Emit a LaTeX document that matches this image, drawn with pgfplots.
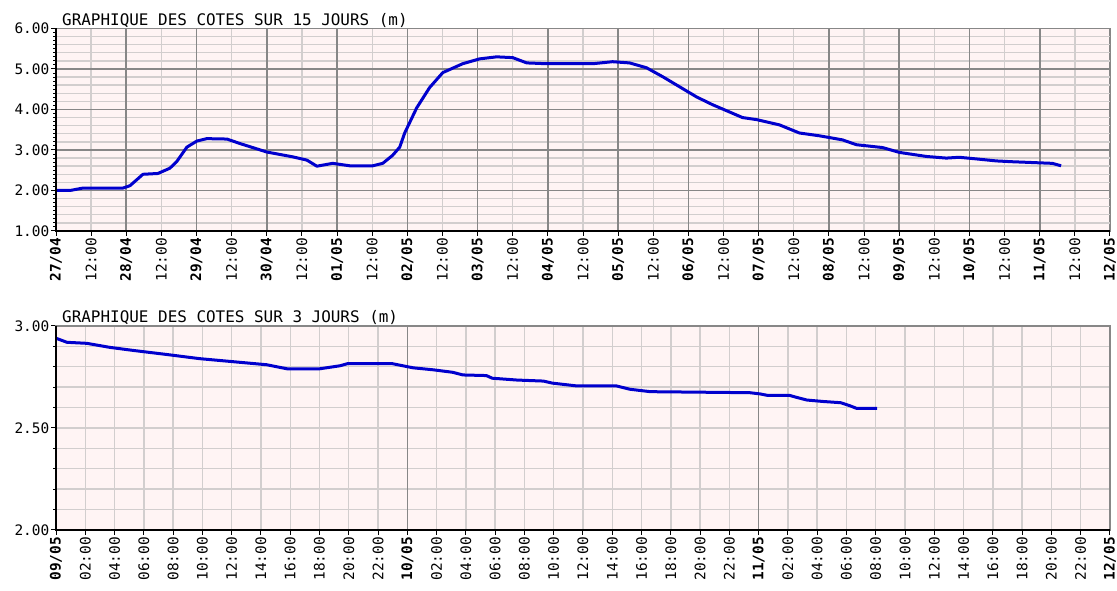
\documentclass[border=0pt]{standalone}
\usepackage{pgfplots}
\pgfplotsset{compat=1.18}
\usepackage{fontspec}
\newfontfamily\chartfont{DejaVu Sans Mono}
\definecolor{bgpink}{RGB}{255,244,244}
\definecolor{gridlight}{RGB}{210,206,206}
\definecolor{griddark}{RGB}{135,135,135}
\definecolor{lineblue}{RGB}{0,0,205}
\tikzset{darkgrid/.style={griddark, line width=1.6bp}}

\pgfplotstableread{
h v
0 2.00
4.8 2.00
9.2 2.06
22.9 2.06
25.3 2.12
29.7 2.40
34.8 2.42
38.9 2.55
41.3 2.72
44.7 3.07
48.1 3.22
51.5 3.28
58.4 3.27
62.8 3.16
72.0 2.95
80.9 2.83
85.7 2.75
89.1 2.60
94.5 2.67
100.3 2.61
108.2 2.61
111.6 2.67
115.0 2.87
117.4 3.07
119.1 3.42
123.2 4.04
127.6 4.54
132.1 4.91
138.9 5.13
144.7 5.25
150.5 5.30
156.0 5.28
160.8 5.15
167.6 5.13
183.3 5.13
190.1 5.18
195.9 5.15
201.7 5.03
207.2 4.81
213.0 4.56
218.8 4.31
224.2 4.12
230.0 3.94
234.5 3.80
239.3 3.75
247.1 3.62
253.9 3.42
260.8 3.35
268.6 3.25
273.4 3.13
282.3 3.06
288.1 2.94
297.3 2.84
304.1 2.80
308.5 2.82
314.3 2.78
321.2 2.73
326.6 2.71
336.9 2.68
340.3 2.67
343.3 2.61
}\quinze

\pgfplotstableread{
h v
0 2.94
0.75 2.92
2.1 2.915
3.7 2.895
5.3 2.88
7.6 2.86
9.8 2.84
12.1 2.825
14.4 2.81
15.8 2.79
18.0 2.79
19.4 2.805
19.9 2.815
23.0 2.815
24.4 2.795
25.8 2.785
27.1 2.773
27.8 2.76
29.4 2.757
29.8 2.744
31.5 2.735
33.3 2.73
33.9 2.72
35.6 2.706
38.3 2.706
39.2 2.69
40.6 2.678
47.4 2.673
48.1 2.667
48.6 2.66
50.1 2.66
50.6 2.65
51.3 2.637
52.4 2.63
53.6 2.624
54.2 2.61
54.7 2.596
56.1 2.596
}\trois

\pgfplotsset{
  cotes/.style={
    scale only axis, width=1054bp,
    anchor=south west,
    axis background/.style={fill=bgpink},
    axis line style={griddark, line width=1.2bp},
    tick align=outside,
    xtick pos=left, ytick pos=left,
    tick style={black, line width=1bp},
    major tick length=5bp, minor tick length=3bp,
    major grid style={gridlight, line width=1.4bp},
    minor grid style={gridlight, line width=1.4bp},
    tick label style={font=\chartfont\fontsize{14.5}{14.5}\selectfont},
    xticklabel style={rotate=90, anchor=east, inner sep=2bp},
    yticklabel style={inner sep=1.5bp},
    clip=false,
  },
}

\begin{document}
\begin{tikzpicture}[x=1bp,y=1bp]
\useasboundingbox (0,0) rectangle (1117,591);

% ---------- 15 days ----------
\begin{axis}[cotes, name=top,
  at={(56bp,360bp)}, height=202.5bp,
  xmin=0, xmax=360, ymin=1, ymax=6,
  xtick={0,12,24,36,48,60,72,84,96,108,120,132,144,156,168,180,192,204,216,228,240,252,264,276,288,300,312,324,336,348,360},
  xticklabels={\textbf{27/04},12:00,\textbf{28/04},12:00,\textbf{29/04},12:00,\textbf{30/04},12:00,\textbf{01/05},12:00,\textbf{02/05},12:00,\textbf{03/05},12:00,\textbf{04/05},12:00,\textbf{05/05},12:00,\textbf{06/05},12:00,\textbf{07/05},12:00,\textbf{08/05},12:00,\textbf{09/05},12:00,\textbf{10/05},12:00,\textbf{11/05},12:00,\textbf{12/05}},
  ytick={1,2,3,4,5,6},
  yticklabels={1.00,2.00,3.00,4.00,5.00,6.00},
  minor ytick={1.1,1.3,1.5,1.7,1.9,2.1,2.3,2.5,2.7,2.9,3.1,3.3,3.5,3.7,3.9,4.1,4.3,4.5,4.7,4.9,5.1,5.3,5.5,5.7,5.9},
  xmajorgrids=true, ymajorgrids=false, yminorgrids=false,
  extra y ticks={1.2,1.4,1.6,1.8,2.2,2.4,2.6,2.8,3.2,3.4,3.6,3.8,4.2,4.4,4.6,4.8,5.2,5.4,5.6,5.8},
  extra y tick labels={},
  extra y tick style={ymajorgrids=true, major tick length=3bp},
]
\pgfplotsinvokeforeach{24,48,72,96,120,144,168,192,216,240,264,288,312,336}{
  \draw[darkgrid] (axis cs:#1,1) -- (axis cs:#1,6);
}
\pgfplotsinvokeforeach{2,3,4,5}{
  \draw[darkgrid] (axis cs:0,#1) -- (axis cs:360,#1);
}
\addplot[lineblue, line width=3bp, line join=round] table[x=h, y=v] {\quinze};
\draw[black, line width=2bp] (rel axis cs:0,1) -- (rel axis cs:0,0) -- (rel axis cs:1,0);
\end{axis}
\node[anchor=base west, inner sep=0pt, font=\chartfont\fontsize{16}{16}\selectfont]
  at ([xshift=6bp, yshift=3bp]top.north west) {GRAPHIQUE DES COTES SUR 15 JOURS (m)};

% ---------- 3 days ----------
\begin{axis}[cotes, name=bot,
  at={(56bp,61bp)}, height=204bp,
  xmin=0, xmax=72, ymin=2, ymax=3,
  xtick={0,2,...,72},
  xticklabels={\textbf{09/05},02:00,04:00,06:00,08:00,10:00,12:00,14:00,16:00,18:00,20:00,22:00,\textbf{10/05},02:00,04:00,06:00,08:00,10:00,12:00,14:00,16:00,18:00,20:00,22:00,\textbf{11/05},02:00,04:00,06:00,08:00,10:00,12:00,14:00,16:00,18:00,20:00,22:00,\textbf{12/05}},
  ytick={2,2.5,3},
  yticklabels={2.00,2.50,3.00},
  minor ytick={2.1,2.2,2.3,2.4,2.5,2.6,2.7,2.8,2.9},
  xmajorgrids=true, ymajorgrids=false, yminorgrids=true,
]
\pgfplotsinvokeforeach{24,48}{
  \draw[darkgrid] (axis cs:#1,2) -- (axis cs:#1,3);
}
\addplot[lineblue, line width=3bp, line join=round] table[x=h, y=v] {\trois};
\draw[black, line width=2bp] (rel axis cs:0,1) -- (rel axis cs:0,0) -- (rel axis cs:1,0);
\end{axis}
\node[anchor=base west, inner sep=0pt, font=\chartfont\fontsize{16}{16}\selectfont]
  at ([xshift=6bp, yshift=3bp]bot.north west) {GRAPHIQUE DES COTES SUR 3 JOURS (m)};
\end{tikzpicture}
\end{document}
